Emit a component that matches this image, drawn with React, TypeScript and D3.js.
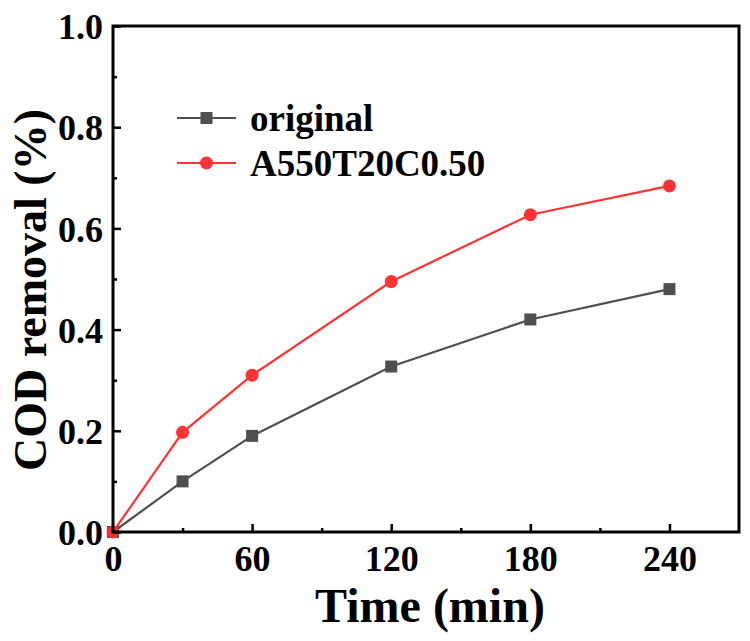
import * as d3 from 'd3';
import { useEffect, useRef } from 'react';

const times = [0, 30, 60, 120, 180, 240];
const originalValues = [0, 0.1, 0.19, 0.327, 0.42, 0.48];
const modifiedValues = [0, 0.197, 0.31, 0.495, 0.627, 0.684];
const seriesNames = ['original', 'A550T20C0.50'];
const xTicks = [0, 60, 120, 180, 240];
const xMinorTicks = [30, 90, 150, 210];
const yTicks = [0, 0.2, 0.4, 0.6, 0.8, 1.0];
const yMinorTicks = [0.1, 0.3, 0.5, 0.7, 0.9];

export default function App() {
    const ref = useRef<SVGSVGElement | null>(null);

    useEffect(() => {
        const svg = d3.select(ref.current);
        svg.selectAll('*').remove();

        const width = 750;
        const height = 641;
        const margin = { top: 26, right: 11, bottom: 109, left: 113 };
        const font = '"Liberation Serif", "Times New Roman", serif';

        const x = d3.scaleLinear()
            .domain([0, 270])
            .range([margin.left, width - margin.right]);

        const y = d3.scaleLinear()
            .domain([0, 1])
            .range([height - margin.bottom, margin.top]);

        svg.attr('width', width).attr('height', height);

        const series = [
            { name: seriesNames[0], values: originalValues, color: '#4f4f4f', shape: 'square' },
            { name: seriesNames[1], values: modifiedValues, color: '#ff3333', shape: 'circle' },
        ];

        const line = d3.line<number>()
            .x((_, i) => x(times[i]))
            .y(d => y(d));

        series.forEach(s => {
            svg.append('path')
                .datum(s.values)
                .attr('fill', 'none')
                .attr('stroke', s.color)
                .attr('stroke-width', 2.2)
                .attr('d', line);

            s.values.forEach((v, i) => {
                if (s.shape === 'square') {
                    svg.append('rect')
                        .attr('x', x(times[i]) - 6)
                        .attr('y', y(v) - 6)
                        .attr('width', 12)
                        .attr('height', 12)
                        .attr('fill', s.color);
                } else {
                    svg.append('circle')
                        .attr('cx', x(times[i]))
                        .attr('cy', y(v))
                        .attr('r', 6.5)
                        .attr('fill', s.color);
                }
            });
        });

        // bottom axis, ticks inward
        const xAxis = svg.append('g')
            .attr('transform', `translate(0,${height - margin.bottom})`)
            .call(d3.axisBottom(x).tickValues(xTicks).tickSizeInner(-8).tickSizeOuter(0).tickPadding(13));
        xAxis.selectAll('.tick').filter((_, i) => i === 0).select('line').remove();
        svg.append('g')
            .attr('transform', `translate(0,${height - margin.bottom})`)
            .call(d3.axisBottom(x).tickValues(xMinorTicks).tickSizeInner(-4).tickSizeOuter(0).tickFormat(() => ''));

        const yAxis = svg.append('g')
            .attr('transform', `translate(${margin.left},0)`)
            .call(d3.axisLeft(y).tickValues(yTicks).tickFormat(d3.format('.1f')).tickSizeInner(-8).tickSizeOuter(0).tickPadding(10));
        svg.append('g')
            .attr('transform', `translate(${margin.left},0)`)
            .call(d3.axisLeft(y).tickValues(yMinorTicks).tickSizeInner(-4).tickSizeOuter(0).tickFormat(() => ''));

        [xAxis, yAxis].forEach(g => {
            g.selectAll('text')
                .attr('font-family', font)
                .attr('font-weight', 'bold')
                .attr('font-size', 36)
                .attr('fill', '#000');
        });
        yAxis.selectAll('text').attr('dy', '0.35em');
        svg.selectAll('.tick line').attr('stroke', '#000').attr('stroke-width', 2.5);
        svg.selectAll('.domain').remove();

        // frame
        svg.append('rect')
            .attr('x', margin.left)
            .attr('y', margin.top)
            .attr('width', width - margin.right - margin.left)
            .attr('height', height - margin.bottom - margin.top)
            .attr('fill', 'none')
            .attr('stroke', '#000')
            .attr('stroke-width', 3);

        // axis titles
        svg.append('text')
            .attr('x', 430)
            .attr('y', 622)
            .attr('text-anchor', 'middle')
            .attr('font-family', font)
            .attr('font-weight', 'bold')
            .attr('font-size', 48)
            .text('Time (min)');

        svg.append('text')
            .attr('transform', `translate(46,290) rotate(-90)`)
            .attr('text-anchor', 'middle')
            .attr('font-family', font)
            .attr('font-weight', 'bold')
            .attr('font-size', 46)
            .text('COD removal (%)');

        // legend
        series.forEach((s, i) => {
            const ly = 118 + i * 45;
            svg.append('line')
                .attr('x1', 177).attr('x2', 236)
                .attr('y1', ly).attr('y2', ly)
                .attr('stroke', s.color).attr('stroke-width', 2.2);
            if (s.shape === 'square') {
                svg.append('rect')
                    .attr('x', 200.5).attr('y', ly - 6)
                    .attr('width', 12).attr('height', 12)
                    .attr('fill', s.color);
            } else {
                svg.append('circle')
                    .attr('cx', 206.5).attr('cy', ly).attr('r', 6.5)
                    .attr('fill', s.color);
            }
            svg.append('text')
                .attr('x', 250)
                .attr('y', ly)
                .attr('dy', '0.35em')
                .attr('font-family', font)
                .attr('font-weight', 'bold')
                .attr('font-size', 37)
                .text(s.name);
        });
    }, []);

    return <svg ref={ref} style={{ position: 'absolute', left: 0, top: 0 }}></svg>;
}
